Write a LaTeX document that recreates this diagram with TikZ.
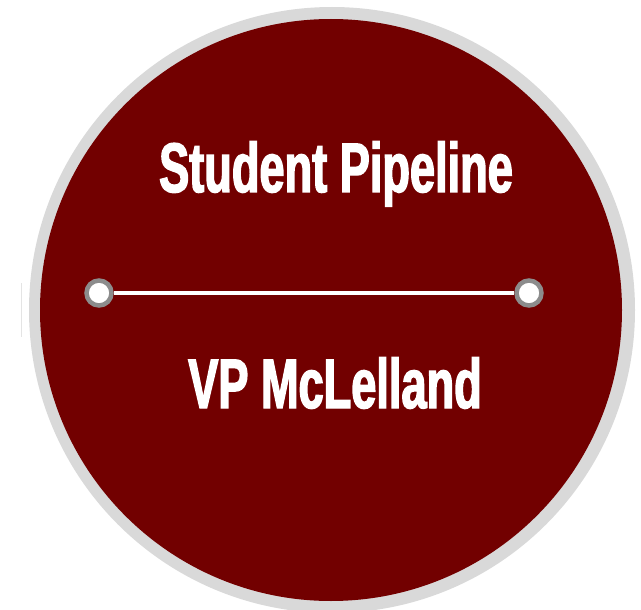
\documentclass[tikz,border=0pt]{standalone}
\usepackage{fontspec}
\newfontfamily\titlefont[FakeStretch=0.645,FakeBold=2]{Liberation Sans Bold}
\definecolor{disk}{RGB}{114,0,0}
\definecolor{ring}{RGB}{217,217,217}
\definecolor{dotring}{RGB}{140,140,140}
\begin{document}
\begin{tikzpicture}[x=1pt,y=-1pt,
  title/.style={text=white,font=\titlefont\fontsize{70}{70}\selectfont,inner sep=0pt,anchor=base},
  endpoint/.style={circle,fill=white,draw=dotring,line width=4.5pt,minimum size=25pt,inner sep=0pt}]
\useasboundingbox (0,0) rectangle (641,610);
\clip (0,0) rectangle (641,610);
\fill[white] (0,0) rectangle (641,610);
\draw[ring!70,line width=0.8pt] (21,283) -- (21,337);
\fill[ring] (332,310) circle (303);
\fill[disk] (331,310) circle (291);
\node[title] (t1) at (336,192) {Student Pipeline};
\node[title] (t2) at (335,408) {VP McLelland};
\node[endpoint] (d1) at (99,293) {};
\node[endpoint] (d2) at (529,293) {};
\draw[white,line width=3.5pt] (d1) -- (d2);
\end{tikzpicture}
\end{document}
